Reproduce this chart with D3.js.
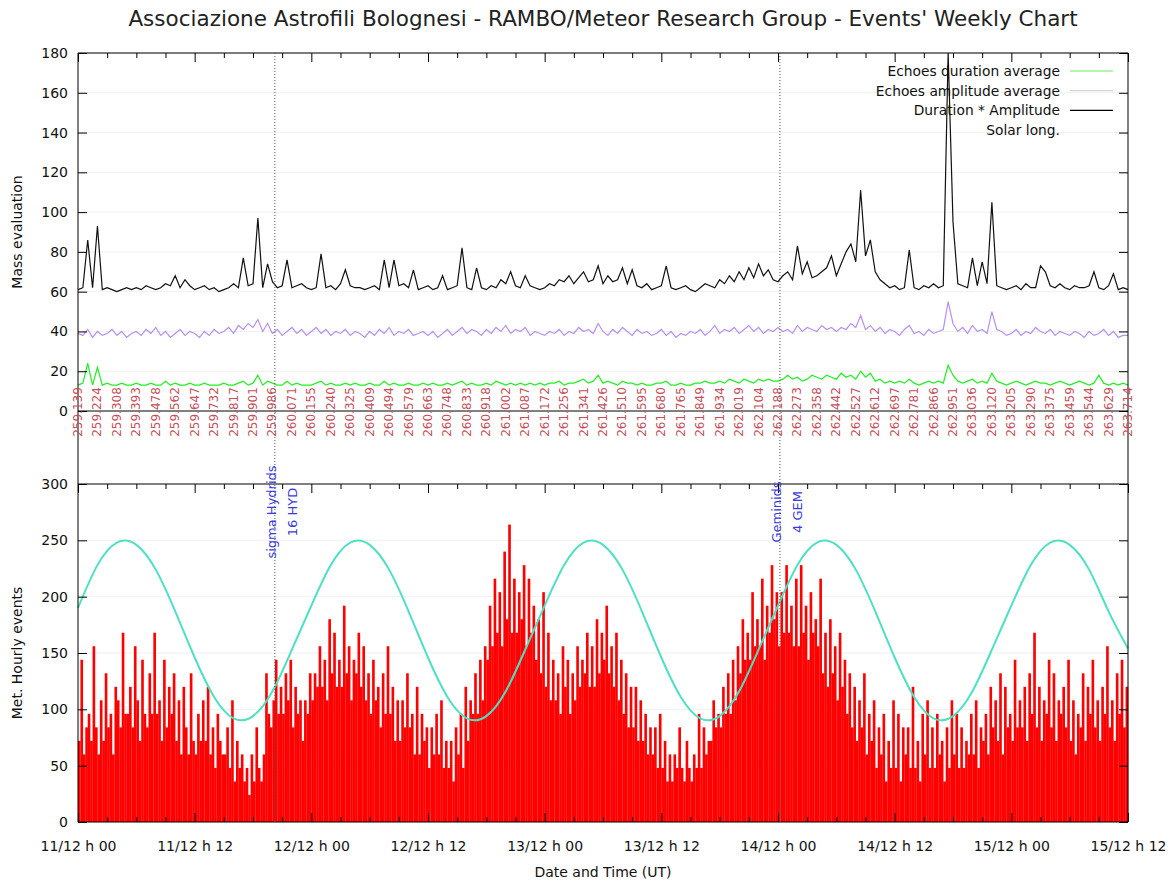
<!DOCTYPE html>
<html>
<head>
<meta charset="utf-8">
<script src="https://cdn.jsdelivr.net/npm/d3@7"></script>
<style>
body { margin: 0; background: #fff; }
text { font-family: "DejaVu Sans", Verdana, sans-serif; }
</style>
</head>
<body>
<div id="chart"></div>
<script>
// hours since 11/12 h 00
const hourTicks = [0, 12, 24, 36, 48, 60, 72, 84, 96, 108]
const dateLabels = ["11/12 h 00", "11/12 h 12", "12/12 h 00", "12/12 h 12", "13/12 h 00",
  "13/12 h 12", "14/12 h 00", "14/12 h 12", "15/12 h 00", "15/12 h 12"]

// solar longitude, one label every 2 hours
const solarLong = ["259.139", "259.224", "259.308", "259.393", "259.478", "259.562", "259.647",
  "259.732", "259.817", "259.901", "259.986", "260.071", "260.155", "260.240", "260.325",
  "260.409", "260.494", "260.579", "260.663", "260.748", "260.833", "260.918", "261.002",
  "261.087", "261.172", "261.256", "261.341", "261.426", "261.510", "261.595", "261.680",
  "261.765", "261.849", "261.934", "262.019", "262.104", "262.188", "262.273", "262.358",
  "262.442", "262.527", "262.612", "262.697", "262.781", "262.866", "262.951", "263.036",
  "263.120", "263.205", "263.290", "263.375", "263.459", "263.544", "263.629", "263.714"]

// top panel, one value every 30 minutes
const durTimesAmp = [
  61, 62, 86, 62, 93, 61, 62, 61, 60, 61, 62, 61,
  62, 61, 63, 62, 61, 62, 64, 63, 68, 62, 66, 63,
  61, 62, 63, 61, 62, 60, 61, 62, 64, 62, 77, 63,
  64, 97, 62, 74, 65, 62, 63, 76, 62, 63, 64, 62,
  61, 62, 79, 62, 63, 61, 64, 71, 63, 62, 62, 61,
  62, 63, 61, 76, 62, 76, 63, 64, 62, 71, 61, 62,
  63, 61, 62, 68, 61, 62, 63, 82, 62, 61, 72, 62,
  61, 63, 62, 66, 64, 70, 63, 62, 68, 63, 62, 61,
  62, 64, 63, 66, 65, 68, 64, 67, 70, 65, 66, 73,
  64, 68, 65, 66, 72, 64, 71, 63, 62, 64, 61, 62,
  63, 73, 62, 61, 62, 63, 61, 60, 62, 64, 63, 62,
  66, 64, 68, 65, 70, 66, 72, 67, 74, 68, 71, 66,
  65, 68, 70, 66, 83, 69, 75, 67, 68, 70, 72, 78,
  68, 74, 80, 84, 75, 111, 78, 86, 70, 66, 64, 62,
  63, 61, 62, 81, 62, 61, 63, 62, 64, 62, 63, 180,
  95, 64, 63, 62, 77, 63, 75, 64, 105, 63, 62, 61,
  62, 63, 61, 64, 62, 62, 73, 70, 63, 62, 64, 62,
  61, 63, 62, 62, 63, 70, 62, 61, 63, 69, 61, 62,
  61]

const amplitudeAvg = [
  39, 38, 41, 37, 40, 38, 39, 41, 38, 40, 37, 39,
  40, 38, 41, 39, 42, 38, 40, 37, 39, 41, 38, 40,
  39, 37, 40, 38, 41, 39, 40, 42, 39, 43, 41, 44,
  42, 46, 40, 44, 39, 41, 38, 40, 42, 39, 41, 38,
  40, 42, 39, 41, 38, 40, 39, 41, 38, 40, 39, 37,
  40, 38, 41, 39, 42, 38, 40, 39, 41, 38, 39, 40,
  38, 40, 37, 39, 41, 38, 40, 42, 39, 41, 40, 38,
  41, 39, 42, 40, 43, 39, 41, 40, 42, 38, 40, 39,
  38, 40, 39, 41, 38, 40, 39, 42, 40, 41, 39, 44,
  40, 38, 41, 39, 42, 40, 38, 41, 39, 40, 38, 39,
  41, 38, 40, 37, 39, 38, 40, 39, 41, 38, 40, 43,
  39, 41, 40, 42, 39, 41, 43, 40, 42, 39, 41, 40,
  42, 40, 41, 39, 43, 40, 42, 41, 40, 43, 41, 42,
  40, 42, 41, 44, 42, 48, 41, 43, 40, 42, 39, 41,
  40, 38, 41, 43, 39, 40, 38, 41, 39, 40, 41, 55,
  44, 40, 42, 39, 43, 40, 41, 39, 50, 41, 40, 38,
  39, 41, 38, 40, 39, 42, 40, 39, 41, 38, 40, 39,
  38, 40, 39, 37, 40, 38, 39, 41, 38, 40, 37, 38,
  38]

const durationAvg = [
  13, 14, 24, 13, 22, 13, 14, 13, 13, 14, 13, 13,
  14, 13, 13, 14, 13, 13, 15, 13, 14, 13, 13, 14,
  13, 13, 14, 13, 13, 13, 14, 13, 13, 14, 15, 13,
  14, 18, 13, 15, 14, 13, 13, 15, 13, 14, 13, 13,
  13, 14, 15, 13, 14, 13, 13, 14, 13, 14, 13, 13,
  14, 13, 13, 15, 13, 14, 13, 13, 14, 13, 13, 14,
  13, 14, 13, 13, 14, 13, 14, 15, 13, 14, 13, 13,
  14, 13, 15, 14, 13, 14, 13, 14, 13, 14, 13, 14,
  13, 14, 14, 15, 13, 14, 14, 15, 16, 14, 15, 18,
  14, 15, 14, 13, 15, 14, 14, 13, 14, 13, 13, 14,
  14, 15, 13, 13, 14, 13, 13, 14, 14, 15, 14, 14,
  15, 14, 16, 15, 14, 16, 15, 14, 16, 15, 16, 15,
  15, 16, 18, 16, 17, 15, 16, 18, 17, 16, 18, 17,
  16, 19, 17, 18, 16, 20, 17, 19, 15, 16, 14, 15,
  14, 15, 14, 16, 14, 13, 14, 15, 14, 15, 14, 23,
  18, 15, 14, 15, 16, 14, 15, 14, 19, 15, 14, 13,
  14, 15, 14, 13, 14, 15, 14, 14, 13, 14, 15, 14,
  13, 14, 15, 14, 13, 14, 18, 14, 13, 14, 13, 14,
  13]

// bottom panel, meteor hourly rate, one value every 15 minutes (4 per hour)
const hourlyEvents = [
  72, 144, 60, 84,   96, 72, 156, 84,   60, 108, 72, 132,   84, 96, 60, 120,
  108, 84, 168, 96,  96, 120, 84, 156,  108, 72, 144, 96,   84, 132, 96, 168,
  96, 108, 72, 144,  84, 120, 96, 132,  72, 108, 60, 120,   84, 60, 132, 72,
  60, 96, 72, 108,   72, 120, 60, 84,   48, 96, 72, 60,     60, 84, 48, 108,
  36, 72, 48, 60,    36, 48, 24, 60,    36, 84, 48, 36,     60, 132, 96, 84,
  108, 144, 96, 120, 96, 132, 108, 144, 84, 120, 96, 108,  72, 108, 96, 132,
  108, 132, 120, 156, 120, 144, 108, 180, 132, 168, 120, 144, 120, 192, 132, 156,
  108, 144, 132, 168, 120, 156, 108, 132, 96, 144, 108, 120, 84, 132, 96, 156,
  96, 120, 72, 108,  72, 108, 84, 132,  84, 96, 60, 120,    60, 96, 72, 84,
  48, 84, 60, 96,    60, 108, 48, 72,   48, 72, 36, 84,     60, 96, 48, 120,
  72, 108, 96, 132,  96, 144, 108, 156, 144, 192, 156, 216, 168, 204, 156, 240,
  180, 264, 168, 216, 168, 204, 180, 228, 156, 216, 168, 192, 144, 180, 132, 204,
  120, 168, 108, 144, 108, 132, 96, 156, 120, 144, 96, 132, 108, 156, 120, 144,
  132, 168, 120, 156, 120, 180, 132, 168, 144, 192, 132, 156, 120, 168, 108, 144,
  96, 132, 84, 120,  84, 120, 72, 108,  72, 96, 60, 84,     60, 84, 48, 96,
  48, 72, 36, 60,    36, 60, 48, 84,    48, 36, 72, 48,     36, 60, 48, 96,
  48, 84, 60, 72,    72, 108, 84, 96,   84, 120, 96, 132,   96, 144, 108, 156,
  132, 180, 144, 168, 144, 204, 156, 180, 156, 216, 144, 192, 168, 228, 180, 204,
  156, 204, 168, 228, 168, 192, 156, 216, 156, 228, 168, 192, 144, 204, 168, 180,
  156, 216, 132, 168, 120, 180, 132, 156, 108, 168, 120, 144, 96, 132, 84, 120,
  72, 108, 84, 132,  60, 96, 72, 108,   48, 84, 60, 96,     36, 72, 48, 108,
  48, 96, 36, 84,    60, 84, 48, 120,   48, 72, 36, 96,     60, 108, 48, 84,
  48, 96, 60, 72,    36, 84, 48, 108,   60, 96, 48, 84,     48, 72, 60, 96,
  60, 108, 48, 84,   72, 96, 60, 120,   84, 108, 72, 132,   60, 120, 84, 96,
  72, 144, 84, 108,  84, 120, 72, 132,  96, 168, 84, 120,   72, 108, 96, 144,
  84, 132, 72, 108,  96, 120, 84, 144,  72, 108, 60, 96,    84, 132, 72, 120,
  96, 144, 84, 108,  72, 120, 96, 156,  84, 108, 72, 132,   96, 144, 84, 120]

// cyan reference curve, one value every 2 hours
const radiantCurve = [
  190, 228, 248, 246, 224, 187, 146, 111, 92, 94, 116, 153,
  192, 228, 248, 246, 224, 187, 146, 111, 92, 94, 116, 153,
  192, 228, 248, 246, 224, 187, 146, 111, 92, 94, 116, 153,
  192, 228, 248, 246, 224, 187, 146, 111, 92, 94, 116, 153,
  192, 228, 248, 246, 224, 187, 154]

const showers = [
  { name: "sigma Hydrids", code: "16 HYD", hour: 20.25 },
  { name: "Geminids", code: "4 GEM", hour: 72.2 }
]

const W = 1174, H = 886
const L = 78, R = 1128
const TOP = 53, ZERO = 411, BTOP = 484, BOT = 822

const svg = d3.select("#chart").append("svg")
  .attr("width", W).attr("height", H)

const x = d3.scaleLinear().domain([0, 108]).range([L, R])
const yTop = d3.scaleLinear().domain([0, 180]).range([ZERO, TOP])
const yBot = d3.scaleLinear().domain([0, 300]).range([BOT, BTOP])

// faint grid
svg.append("g").selectAll("line").data(d3.range(20, 181, 20)).join("line")
  .attr("x1", L).attr("x2", R).attr("y1", d => yTop(d)).attr("y2", d => yTop(d))
  .attr("stroke", "#f0f0f0")
svg.append("g").selectAll("line").data(d3.range(50, 300, 50)).join("line")
  .attr("x1", L).attr("x2", R).attr("y1", d => yBot(d)).attr("y2", d => yBot(d))
  .attr("stroke", "#f0f0f0")

// red bars
const step = 0.25
svg.append("g").selectAll("rect").data(hourlyEvents).join("rect")
  .attr("x", (d, i) => x(i * step))
  .attr("width", x(step) - x(0) + 0.2)
  .attr("y", d => yBot(d))
  .attr("height", d => yBot(0) - yBot(d))
  .attr("fill", "#ff0000")

// cyan curve
svg.append("path")
  .datum(radiantCurve)
  .attr("fill", "none")
  .attr("stroke", "#4fe0c4")
  .attr("stroke-width", 2)
  .attr("d", d3.line().x((d, i) => x(i * 2)).y(d => yBot(d)).curve(d3.curveNatural))

// top panel lines
const halfLine = d3.line().x((d, i) => x(i * 0.5)).y(d => yTop(d))
svg.append("path").datum(durationAvg)
  .attr("fill", "none").attr("stroke", "#22ee22").attr("stroke-width", 1.2)
  .attr("d", halfLine)
svg.append("path").datum(amplitudeAvg)
  .attr("fill", "none").attr("stroke", "#b890f0").attr("stroke-width", 1.2)
  .attr("d", halfLine)
svg.append("path").datum(durTimesAmp)
  .attr("fill", "none").attr("stroke", "#111").attr("stroke-width", 1.2)
  .attr("d", halfLine)

// frame
const frame = svg.append("g").attr("stroke", "#000").attr("stroke-width", 1)
frame.append("line").attr("x1", L).attr("x2", L).attr("y1", TOP).attr("y2", BOT)
frame.append("line").attr("x1", R).attr("x2", R).attr("y1", TOP).attr("y2", BOT)
;[TOP, ZERO, BTOP, BOT].forEach(y => {
  frame.append("line").attr("x1", L).attr("x2", R).attr("y1", y).attr("y2", y)
})

function styleAxis(g) {
  g.select(".domain").remove()
  g.selectAll(".tick line").attr("stroke", "#000")
  g.selectAll("text").attr("font-size", 14).attr("fill", "#111")
    .attr("font-family", "DejaVu Sans, Verdana, sans-serif")
}

// y axes
svg.append("g").attr("transform", `translate(${L},0)`)
  .call(d3.axisLeft(yTop).tickValues(d3.range(0, 181, 20)).tickSize(-9).tickPadding(10))
  .call(styleAxis)
svg.append("g").attr("transform", `translate(${R},0)`)
  .call(d3.axisRight(yTop).tickValues(d3.range(0, 181, 20)).tickSize(-9).tickFormat(""))
  .call(styleAxis)
svg.append("g").attr("transform", `translate(${L},0)`)
  .call(d3.axisLeft(yBot).tickValues(d3.range(0, 301, 50)).tickSize(-9).tickPadding(10))
  .call(styleAxis)
svg.append("g").attr("transform", `translate(${R},0)`)
  .call(d3.axisRight(yBot).tickValues(d3.range(0, 301, 50)).tickSize(-9).tickFormat(""))
  .call(styleAxis)

// x ticks
const minor = d3.range(0, 109, 3).filter(h => h % 12 !== 0)
;[TOP, BTOP].forEach(y => {
  svg.append("g").attr("transform", `translate(0,${y})`)
    .call(d3.axisTop(x).tickValues(minor).tickSize(-5).tickFormat(""))
    .call(styleAxis)
  svg.append("g").attr("transform", `translate(0,${y})`)
    .call(d3.axisTop(x).tickValues(hourTicks).tickSize(-9).tickFormat(""))
    .call(styleAxis)
})
svg.append("g").attr("transform", `translate(0,${BOT})`)
  .call(d3.axisBottom(x).tickValues(minor).tickSize(-5).tickFormat(""))
  .call(styleAxis)
svg.append("g").attr("transform", `translate(0,${BOT})`)
  .call(d3.axisBottom(x).tickValues(hourTicks).tickSize(-9).tickPadding(19)
    .tickFormat((d, i) => dateLabels[i]))
  .call(styleAxis)

// solar longitude labels
svg.append("g").selectAll("text").data(solarLong).join("text")
  .attr("transform", (d, i) => `translate(${x(i * 2) + 4},${ZERO + 1}) rotate(-90)`)
  .attr("text-anchor", "middle")
  .attr("font-size", 12)
  .attr("fill", "#c4505c")
  .text(d => d)

// shower markers
svg.append("g").selectAll("line").data(showers).join("line")
  .attr("x1", d => x(d.hour)).attr("x2", d => x(d.hour))
  .attr("y1", TOP).attr("y2", BOT)
  .attr("stroke", "#555").attr("stroke-width", 1).attr("stroke-dasharray", "1,2")
showers.forEach(s => {
  svg.append("text")
    .attr("transform", `translate(${x(s.hour) + 1},512) rotate(-90)`)
    .attr("text-anchor", "middle").attr("font-size", 13).attr("fill", "#3a3ad8")
    .text(s.name)
  svg.append("text")
    .attr("transform", `translate(${x(s.hour) + 22},512) rotate(-90)`)
    .attr("text-anchor", "middle").attr("font-size", 13).attr("fill", "#3a3ad8")
    .text(s.code)
})

// legend
const legend = [
  { label: "Echoes duration average", color: "#66ee66" },
  { label: "Echoes amplitude average", color: "#d8d0e0" },
  { label: "Duration * Amplitude", color: "#000" },
  { label: "Solar long.", color: null }
]
legend.forEach((d, i) => {
  const y = 71 + i * 19.7
  svg.append("text").attr("x", 1060).attr("y", y + 5)
    .attr("text-anchor", "end").attr("font-size", 13.8).attr("fill", "#111")
    .text(d.label)
  if (d.color) {
    svg.append("line").attr("x1", 1070).attr("x2", 1113).attr("y1", y).attr("y2", y)
      .attr("stroke", d.color).attr("stroke-width", 1.2)
  }
})

// titles
svg.append("text").attr("x", 603).attr("y", 26).attr("text-anchor", "middle")
  .attr("font-size", 21.5).attr("fill", "#222")
  .text("Associazione Astrofili Bolognesi - RAMBO/Meteor Research Group - Events' Weekly Chart")
svg.append("text").attr("x", 603).attr("y", 877).attr("text-anchor", "middle")
  .attr("font-size", 14).attr("fill", "#111")
  .text("Date and Time (UT)")
svg.append("text").attr("transform", "translate(22,232) rotate(-90)")
  .attr("text-anchor", "middle").attr("font-size", 14).attr("fill", "#111")
  .text("Mass evaluation")
svg.append("text").attr("transform", "translate(22,653) rotate(-90)")
  .attr("text-anchor", "middle").attr("font-size", 14).attr("fill", "#111")
  .text("Met. Hourly events")
</script>
</body>
</html>
